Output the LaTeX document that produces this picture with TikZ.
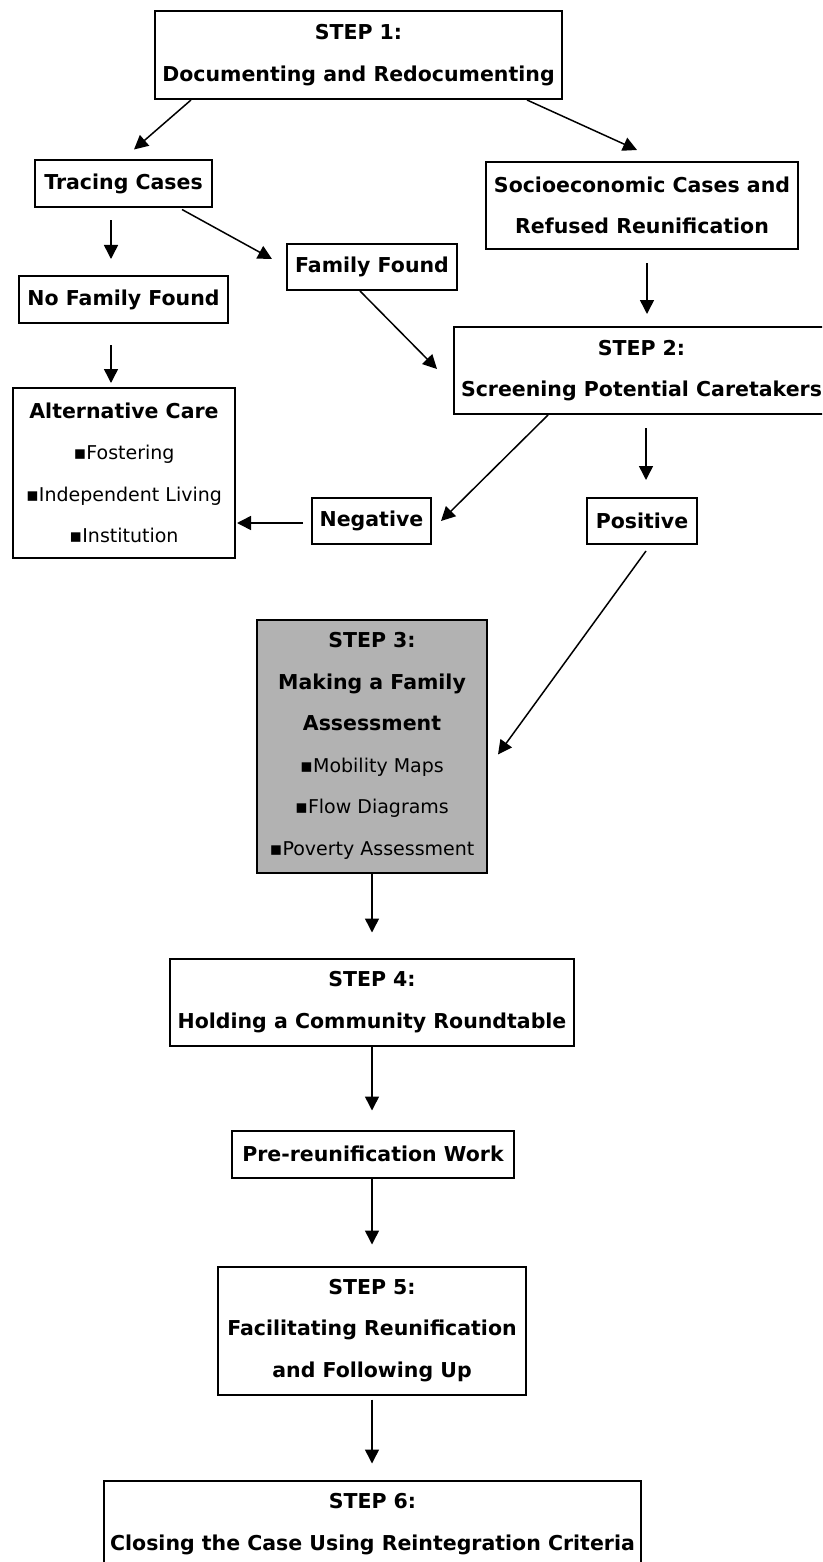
\documentclass[tikz,border=0pt]{standalone}
\usepackage{fontspec}
\setmainfont{DejaVu Sans}
\usepackage{tikz}
\usetikzlibrary{arrows.meta}
\colorlet{stepgray}{black!30}
\newcommand{\itm}[1]{{\mdseries\fontsize{19}{41.5}\selectfont ▪#1}}

\begin{document}
\begin{tikzpicture}[x=1pt,y=-1pt,>={Triangle[length=14pt,width=14pt]},
  box/.style={draw,line width=2pt,inner sep=0pt,align=center,font=\bfseries\fontsize{20.5}{41.5}\selectfont},
  arr/.style={->,line width=1.5pt}]
\useasboundingbox (0,0) rectangle (822,1562);
\clip (0,0) rectangle (822,1562);
\node[box,minimum width=407pt,minimum height=88pt] (step1) at (358.5,55) {STEP 1:\\Documenting and Redocumenting};
\node[box,minimum width=177pt,minimum height=47pt] (tracing) at (123.5,184) {Tracing Cases};
\node[box,minimum width=312pt,minimum height=87pt] (socio) at (642,205.5) {Socioeconomic Cases and\\Refused Reunification};
\node[box,minimum width=170pt,minimum height=46pt] (family) at (372,267) {Family Found};
\node[box,minimum width=209pt,minimum height=47pt] (nofam) at (123.5,299.5) {No Family Found};
\node[box,minimum width=375pt,minimum height=87pt] (step2) at (641.5,370.5) {STEP 2:\\Screening Potential Caretakers};
\node[box,minimum width=222pt,minimum height=170pt] (alt) at (124,473) {Alternative Care\\\itm{Fostering}\\\itm{Independent Living}\\\itm{Institution}};
\node[box,minimum width=119pt,minimum height=46pt] (neg) at (371.5,521) {Negative};
\node[box,minimum width=110pt,minimum height=46pt] (pos) at (642,521) {Positive};
\node[box,fill=stepgray,minimum width=230pt,minimum height=253pt] (step3) at (372,746) {STEP 3:\\Making a Family\\Assessment\\\itm{Mobility Maps}\\\itm{Flow Diagrams}\\\itm{Poverty Assessment}};
\node[box,minimum width=404pt,minimum height=87pt] (step4) at (372,1002) {STEP 4:\\Holding a Community Roundtable};
\node[box,minimum width=282pt,minimum height=47pt] (pre) at (373,1154) {Pre-reunification Work};
\node[box,minimum width=308pt,minimum height=128pt] (step5) at (372,1330.5) {STEP 5:\\Facilitating Reunification\\and Following Up};
\node[box,minimum width=537pt,minimum height=87pt] (step6) at (372.5,1524) {STEP 6:\\Closing the Case Using Reintegration Criteria};
% arrows keep small gaps to the boxes, as drawn
\draw[arr] ([shift={(-167.5,0)}]step1.south) -- ([shift={(10.5,-10)}]tracing.north);
\draw[arr] ([shift={(168.5,0)}]step1.south) -- ([shift={(-5,-11)}]socio.north);
\draw[arr] ([shift={(-12.5,12)}]tracing.south) -- ([shift={(-12.5,-16)}]nofam.north);
\draw[arr] ([shift={(-31,1)}]tracing.south east) -- ([shift={(-14,-8)}]family.west);
\draw[arr] ([shift={(5,13)}]socio.south) -- ([shift={(5.5,-12)}]step2.north);
\draw[arr] ([shift={(-12,0)}]family.south) -- ([shift={(-16,-1.5)}]step2.west);
\draw[arr] ([shift={(-12.5,21)}]nofam.south) -- ([shift={(-13,-4)}]alt.north);
\draw[arr] ([shift={(-93.5,0)}]step2.south) -- ([shift={(9,0)}]neg.east);
\draw[arr] ([shift={(4.5,13)}]step2.south) -- ([shift={(4,-17)}]pos.north);
\draw[arr] ([shift={(-8,2)}]neg.west) -- ([shift={(1,50)}]alt.east);
\draw[arr] ([shift={(4,6)}]pos.south) -- ([shift={(10,8.5)}]step3.east);
\draw[arr] (step3.south) -- ([shift={(0,-25)}]step4.north);
\draw[arr] (step4.south) -- ([shift={(-1,-19)}]pre.north);
\draw[arr] ([shift={(-1,0)}]pre.south) -- ([shift={(0,-21)}]step5.north);
\draw[arr] ([shift={(0,4)}]step5.south) -- ([shift={(-0.5,-16)}]step6.north);
\end{tikzpicture}
\end{document}
